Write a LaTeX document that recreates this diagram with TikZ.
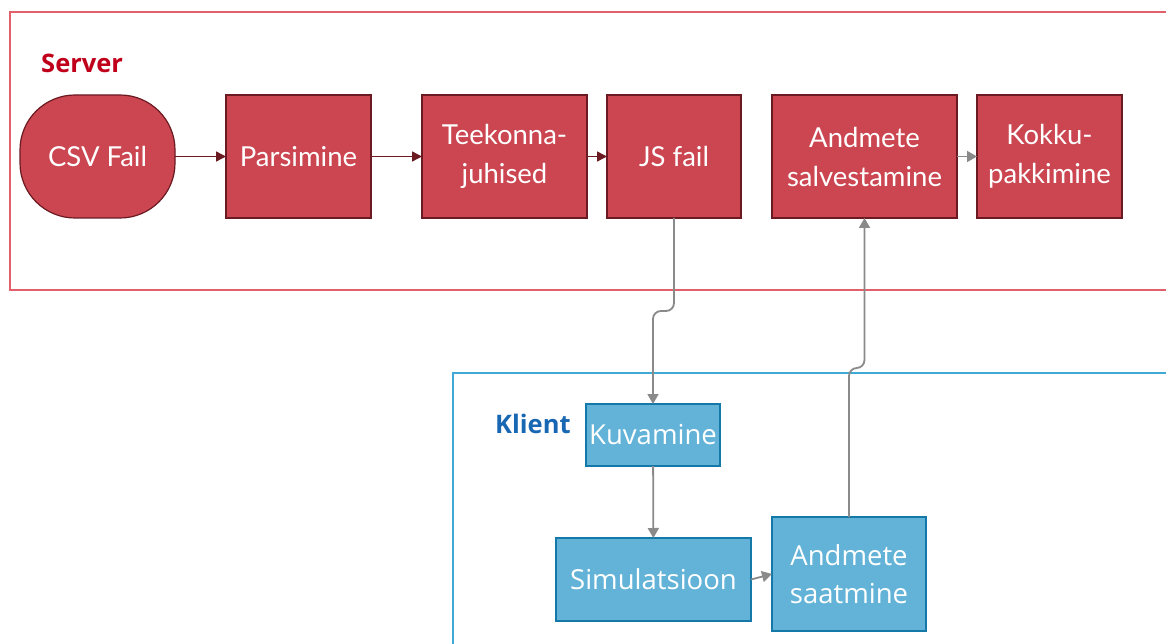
\documentclass[tikz,border=0pt]{standalone}
\usepackage{fontspec}
\setmainfont{Lato}
\newfontfamily\opensans{Open Sans}
\usetikzlibrary{arrows.meta,positioning}
\definecolor{srvfill}{HTML}{CB4650}
\definecolor{srvdraw}{HTML}{6B1A22}
\definecolor{srvframe}{HTML}{E0606B}
\definecolor{srvlabel}{HTML}{C0001A}
\definecolor{clifill}{HTML}{62B3D7}
\definecolor{clidraw}{HTML}{1479A8}
\definecolor{cliframe}{HTML}{3FAAD6}
\definecolor{clilabel}{HTML}{1767B3}
\definecolor{flowgray}{HTML}{8A8A8A}
\tikzset{
  % process boxes
  srv/.style={draw=srvdraw,fill=srvfill,line width=1.2pt,outer sep=0pt,text=white,align=center,
              minimum height=123pt,font=\fontsize{27.5}{39}\selectfont},
  cli/.style={draw=clidraw,fill=clifill,line width=1.2pt,outer sep=0pt,text=white,align=center,
              font=\opensans\fontsize{27.5}{38}\selectfont},
  % zone frames and titles
  zone/.style={line width=1.3pt},
  zonelabel/.style={anchor=west,font=\opensans\bfseries\fontsize{25.5}{30}\selectfont},
  % connectors
  srvflow/.style={line width=1.5pt,srvdraw,-{Triangle[length=10pt,width=10pt]}},
  cliflow/.style={line width=1.8pt,flowgray,-{Triangle[length=10pt,width=11pt]}},
}

\begin{document}
\begin{tikzpicture}[x=1pt,y=-1pt,inner sep=0pt]
\clip (0,0) rectangle (1166,644);
\fill[white] (0,0) rectangle (1166,644);
\draw[zone,srvframe] (10,12) rectangle (1190,290);
\draw[zone,cliframe] (453,373) rectangle (1190,670);
\node[zonelabel,text=srvlabel] (srvlbl) at (41,63) {Server};
\node[zonelabel,text=clilabel] (clilbl) at (495,424) {Klient};

% server side
\node[srv,rounded corners=55pt,minimum width=155pt] (csv) at (97.5,156.5) {CSV Fail};
\node[srv,minimum width=145pt,right=51pt of csv] (pars) {Parsimine};
\node[srv,minimum width=165pt,right=51pt of pars] (teek) {Teekonna-\\juhised};
\node[srv,minimum width=134pt,right=20pt of teek] (js) {JS fail};
\node[srv,minimum width=185pt,right=31pt of js] (salv) {Andmete\\salvestamine};
\node[srv,minimum width=145pt,right=20pt of salv] (kok) {Kokku-\\pakkimine};

% client side
\node[cli,minimum width=134pt,minimum height=62pt] (kuv) at (653,435) {Kuvamine};
\node[cli,minimum width=195pt,minimum height=83pt] (sim) at (653.5,579.5) {Simulatsioon};
\node[cli,minimum width=154pt,minimum height=114pt] (saat) at (849,574) {Andmete\\saatmine};

\draw[srvflow] (csv) -- (pars);
\draw[srvflow] (pars) -- (teek);
\draw[srvflow] (teek) -- (js);
\draw[cliflow] (salv) -- (kok);
\draw[cliflow,rounded corners=8pt] (js.south) -- ([yshift=-93pt]js.south) -| (kuv.north);
\draw[cliflow] (kuv) -- (sim);
\draw[cliflow] (sim.east) -- (saat.west);
\draw[cliflow,rounded corners=8pt] (saat.north) -- ([yshift=149pt]saat.north) -| (salv.south);
\end{tikzpicture}
\end{document}
